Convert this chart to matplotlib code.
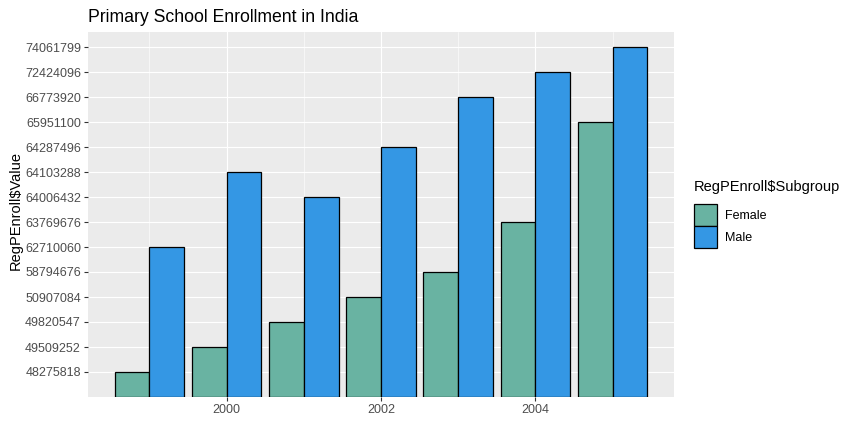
import matplotlib
matplotlib.use("Agg")
import matplotlib.pyplot as plt
from matplotlib.patches import Patch
import numpy as np

plt.rcParams['font.family'] = ['Liberation Sans', 'DejaVu Sans']

years = [1999, 2000, 2001, 2002, 2003, 2004, 2005]
female = [48275818, 49509252, 49820547, 50907084, 58794676, 63769676, 65951100]
male = [62710060, 64103288, 64006432, 64287496, 66773920, 72424096, 74061799]
groups = ["Female", "Male"]
colors = ["#69b3a2", "#3497e4"]
x_ticks = [2000, 2002, 2004]

# discrete y scale (values treated as factor levels)
levels = sorted(set(female + male))
pos = {v: i + 1 for i, v in enumerate(levels)}

W, H = 856, 442
fig = plt.figure(figsize=(W / 100, H / 100), dpi=100)
L, R, T, B = 88, 674, 32, 397
ax = fig.add_axes([L / W, 1 - B / H, (R - L) / W, (B - T) / H])
ax.set_facecolor("#EBEBEB")

bw = 0.45
yrs = np.array(years, dtype=float)
fh = [pos[v] for v in female]
mh = [pos[v] for v in male]
ax.bar(yrs - bw / 2, fh, width=bw, color=colors[0], edgecolor="black", linewidth=0.9, zorder=3)
ax.bar(yrs + bw / 2, mh, width=bw, color=colors[1], edgecolor="black", linewidth=0.9, zorder=3)

xmin, xmax = yrs.min() - 0.45, yrs.max() + 0.45
pad = (xmax - xmin) * 0.05
ax.set_xlim(xmin - pad, xmax + pad)
ax.set_ylim(0, len(levels) + 0.6)

ax.set_xticks(x_ticks)
ax.set_xticklabels([str(v) for v in x_ticks])
ax.set_xticks([1999, 2001, 2003, 2005], minor=True)
ax.set_yticks(range(1, len(levels) + 1))
ax.set_yticklabels([str(v) for v in levels])

ax.grid(True, which="major", color="white", linewidth=0.8, zorder=0)
ax.grid(True, which="minor", axis="x", color="white", linewidth=0.4, zorder=0)
ax.set_axisbelow(True)
for s in ax.spines.values():
    s.set_visible(False)
ax.tick_params(axis="both", which="major", length=2.6, width=0.8, color="#333333",
               labelcolor="#4D4D4D", labelsize=9.0, pad=2.5)
ax.tick_params(axis="x", which="minor", length=0)

ax.set_ylabel("RegPEnroll\\$Value", fontsize=10.5, color="black")
ax.yaxis.set_label_coords(-65 / (R - L), (B - 210) / (B - T))
fig.text(L / W, 1 - 17 / H, "Primary School Enrollment in India", fontsize=12.7,
         ha="left", va="center", color="black")

fig.text(694 / W, 1 - 187 / H, "RegPEnroll\\$Subgroup", fontsize=10.5,
         ha="left", va="center", color="black")
handles = [Patch(facecolor=c, edgecolor="black", linewidth=0.9) for c in colors]
leg = fig.legend(handles, groups, loc="upper left",
                 bbox_to_anchor=(694 / W, 1 - 204 / H), frameon=False,
                 fontsize=9.0, handlelength=1.84, handleheight=2.3,
                 handletextpad=0.6, labelspacing=0.02, borderpad=0.0,
                 borderaxespad=0.0)

fig.savefig("out.png", dpi=100)
